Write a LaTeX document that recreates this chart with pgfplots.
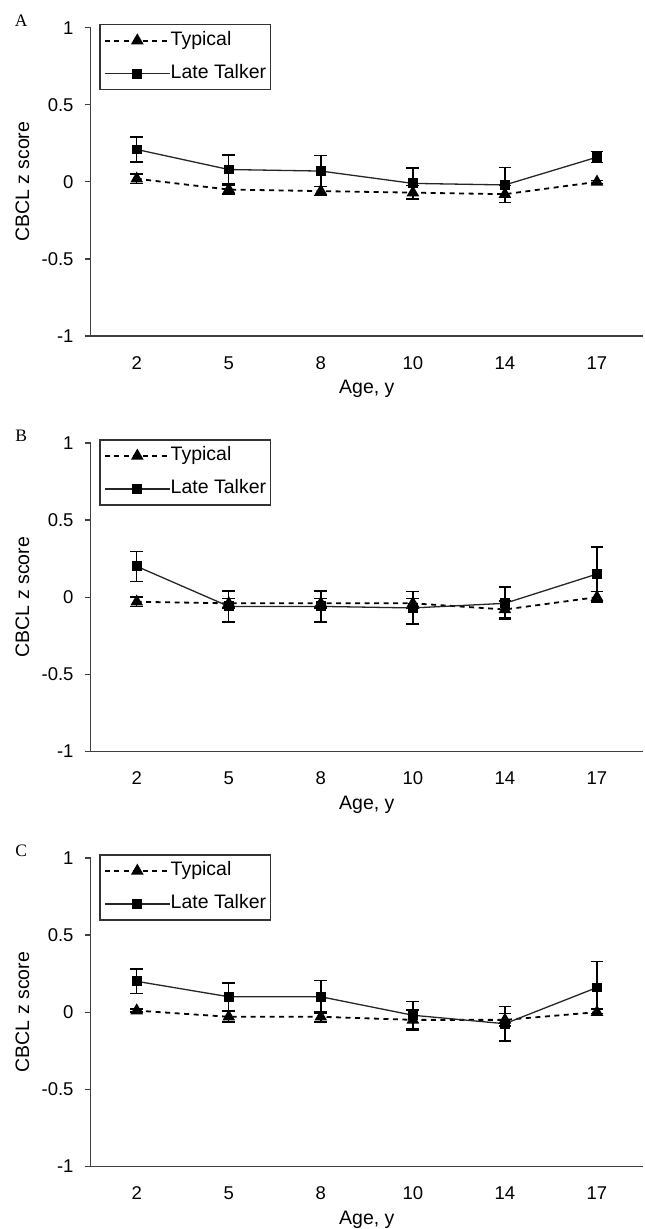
\documentclass[border=0pt]{standalone}
\usepackage{pgfplots}
\pgfplotsset{compat=1.18}
\usepackage{fontspec}
\setmainfont{Liberation Sans}
\newfontfamily\serifletter{Liberation Serif}
\newcommand{\tickfont}{\fontsize{18.5pt}{22pt}\selectfont}
\newcommand{\labfont}{\fontsize{19.5pt}{23pt}\selectfont}

\pgfplotsset{
  panel/.style={
    scale only axis,
    width=552.3pt, height=308.3pt,
    anchor=south west,
    axis x line=bottom, axis y line=left,
    axis line style={-, line width=1.2pt, color=black!75},
    xmin=-0.5, xmax=5.5, ymin=-1, ymax=1,
    xtick={0,1,2,3,4,5},
    xticklabels={2,5,8,10,14,17},
    major x tick style={draw=none},
    extra x ticks={-0.5,0.5,1.5,2.5,3.5,4.5,5.5},
    extra x tick labels={},
    extra x tick style={major tick length=6pt, tick style={line width=1.2pt, color=black!75}},
    ytick={-1,-0.5,0,0.5,1},
    yticklabels={-1,-0.5,0,0.5,1},
    tick align=outside,
    major tick length=6pt,
    tick style={line width=1.2pt, color=black!75},
    xticklabel style={font=\tickfont, anchor=base, inner sep=0pt, yshift=-27pt},
    yticklabel style={font=\tickfont, anchor=east, inner sep=0pt, xshift=-11pt},
    xlabel={Age, y},
    ylabel={CBCL z score},
    xlabel style={font=\labfont, at={(axis description cs:0.5,-0.188)}, anchor=base},
    ylabel style={font=\labfont, at={(axis description cs:-0.1235,0.5)}, anchor=center},
    legend style={
      at={(axis description cs:0.0156,1.012)}, anchor=north west,
      draw=black!80, line width=1.2pt, fill=white,
      font=\labfont, inner xsep=4pt, inner ysep=7pt,
      row sep=15pt,
      nodes={text height=14pt, text depth=4pt, inner sep=0pt},
      /tikz/every even column/.append style={column sep=3.5pt},
    },
    legend cell align=left,
    legend image code/.code={
      \draw[mark repeat=2,mark phase=2,##1] plot coordinates {(0pt,0pt) (32.5pt,0pt) (65pt,0pt)};
    },
    clip=false,
  },
  typ/.style={
    black, line width=1.8pt, dash pattern=on 5pt off 4.5pt,
    mark=triangle*, mark size=5.5pt, mark options={solid, fill=black},
    error bars/.cd, y dir=both, y explicit,
    error bar style={line width=1.4pt, solid, black},
    error mark options={rotate=90, mark size=6.4pt, line width=1.4pt, solid},
  },
  late/.style={
    black!85, line width=1.3pt,
    mark=square*, mark size=4.3pt, mark options={solid, fill=black, draw=black},
    error bars/.cd, y dir=both, y explicit,
    error bar style={line width=1.4pt, solid, black},
    error mark options={rotate=90, mark size=6.4pt, line width=1.4pt, solid, black},
  },
}

\begin{document}
\begin{tikzpicture}
\path[use as bounding box] (0pt,0pt) rectangle (645pt,-1229pt);

% Panel A
\begin{axis}[panel, at={(90.7pt,-336pt)}]
\addplot[typ] table[x=x, y=y, y error=e] {
x y e
0 0.02 0.03
1 -0.05 0.03
2 -0.06 0.03
3 -0.07 0.045
4 -0.08 0.055
5 0.00 0.01
};
\addlegendentry{Typical}
\addplot[late] table[x=x, y=y, y error=e] {
x y e
0 0.21 0.08
1 0.08 0.095
2 0.07 0.10
3 -0.01 0.10
4 -0.02 0.115
5 0.16 0.035
};
\addlegendentry{Late Talker}
\node[font=\serifletter\fontsize{17.5pt}{20pt}\selectfont, anchor=center] at (axis description cs:-0.1257,1.022) {A};
\end{axis}

% Panel B
\begin{axis}[panel, at={(90.7pt,-751.3pt)}]
\addplot[typ] table[x=x, y=y, y error=e] {
x y e
0 -0.03 0.03
1 -0.04 0.03
2 -0.04 0.03
3 -0.04 0.03
4 -0.08 0.055
5 0.00 0.035
};
\addlegendentry{Typical}
\addplot[late] table[x=x, y=y, y error=e] {
x y e
0 0.20 0.097
1 -0.06 0.10
2 -0.06 0.10
3 -0.07 0.105
4 -0.04 0.105
5 0.15 0.175
};
\addlegendentry{Late Talker}
\node[font=\serifletter\fontsize{17.5pt}{20pt}\selectfont, anchor=center] at (axis description cs:-0.1257,1.022) {B};
\end{axis}

% Panel C
\begin{axis}[panel, at={(90.7pt,-1166.3pt)}]
\addplot[typ] table[x=x, y=y, y error=e] {
x y e
0 0.01 0.01
1 -0.03 0.035
2 -0.03 0.035
3 -0.05 0.065
4 -0.05 0.04
5 0.00 0.02
};
\addlegendentry{Typical}
\addplot[late] table[x=x, y=y, y error=e] {
x y e
0 0.20 0.08
1 0.10 0.088
2 0.10 0.105
3 -0.02 0.09
4 -0.075 0.112
5 0.16 0.17
};
\addlegendentry{Late Talker}
\node[font=\serifletter\fontsize{17.5pt}{20pt}\selectfont, anchor=center] at (axis description cs:-0.1257,1.022) {C};
\end{axis}
\end{tikzpicture}
\end{document}
